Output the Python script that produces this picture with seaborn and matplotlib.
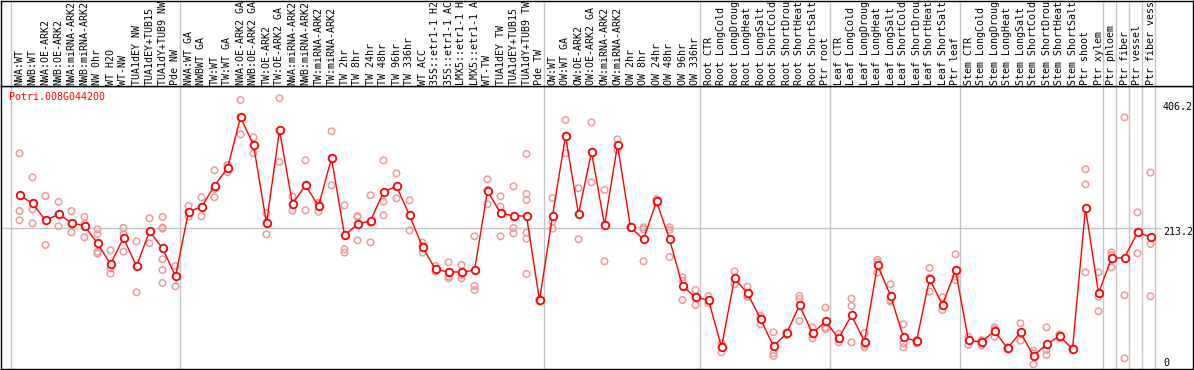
import numpy as np
import pandas as pd
import seaborn as sns
import matplotlib.pyplot as plt

# sample labels, one column each (as far as they show in the header)
labels = [
    "NWA:WT", "NWB:WT", "NWA:OE-ARK2", "NWB:OE-ARK2", "NWA:miRNA-ARK2", "NWB:miRNA-ARK2",
    "NW 0hr", "WT H2O", "WT-NW", "TUA1dEY NW", "TUA1dEY+TUB15", "TUA1dY+TUB9 NW", "Pde NW",
    "NWA:WT GA", "NWBWT GA", "TW:WT", "TW:WT GA", "NWA:OE-ARK2 GA", "NWB:OE-ARK2 GA",
    "TW:OE-ARK2", "TW:OE-ARK2 GA", "NWA:miRNA-ARK2", "NWB:miRNA-ARK2", "TW:miRNA-ARK2",
    "TW:miRNA-ARK2", "TW 2hr", "TW 8hr", "TW 24hr", "TW 48hr", "TW 96hr", "TW 336hr",
    "WT ACC", "35S::etr1-1 H2", "35S::etr1-1 AC", "LMX5::etr1-1 H", "LMX5::etr1-1 A",
    "WT-TW", "TUA1dEY TW", "TUA1dEY+TUB15", "TUA1dY+TUB9 TW", "Pde TW",
    "OW:WT", "OW:WT GA", "OW:OE-ARK2", "OW:OE-ARK2 GA", "OW:miRNA-ARK2", "OW:miRNA-ARK2",
    "OW 2hr", "OW 8hr", "OW 24hr", "OW 48hr", "OW 96hr", "OW 336hr",
    "Root CTR", "Root LongCold", "Root LongDroug", "Root LongHeat", "Root LongSalt",
    "Root ShortCold", "Root ShortDrou", "Root ShortHeat", "Root ShortSalt", "Ptr root",
    "Leaf CTR", "Leaf LongCold", "Leaf LongDroug", "Leaf LongHeat", "Leaf LongSalt",
    "Leaf ShortCold", "Leaf ShortDrou", "Leaf ShortHeat", "Leaf ShortSalt", "Ptr leaf",
    "Stem CTR", "Stem LongCold", "Stem LongDroug", "Stem LongHeat", "Stem LongSalt",
    "Stem ShortCold", "Stem ShortDrou", "Stem ShortHeat", "Stem ShortSalt", "Ptr shoot",
    "Ptr xylem", "Ptr phloem", "Ptr fiber", "Ptr vessel", "Ptr fiber vess",
]
group_sizes = [13, 28, 12, 10, 10, 11, 1, 1, 1, 1]

gene = "Potri.008G044200"

mean_expr = [
    261.4, 249.5, 224.1, 233.1, 220.6, 215.7, 189.8, 159.0, 197.8, 155.5,
    207.7, 182.4, 140.6, 237.0, 244.0, 275.8, 301.7, 377.7, 336.5, 219.6,
    358.3, 248.5, 276.3, 245.5, 316.6, 202.2, 218.1, 223.6, 266.4, 274.8,
    231.6, 184.3, 151.0, 147.1, 147.1, 149.5, 267.9, 235.0, 230.6, 230.6,
    104.8, 230.6, 349.9, 233.6, 326.0, 217.2, 336.5, 213.7, 195.8, 252.4,
    195.8, 126.2, 109.3, 105.3, 35.2, 137.6, 115.2, 77.0, 36.2, 55.6,
    97.3, 55.6, 73.5, 48.1, 82.4, 43.2, 157.5, 111.8, 49.6, 44.1,
    136.6, 98.3, 149.5, 45.1, 42.7, 59.1, 33.2, 57.1, 21.8, 39.2,
    51.6, 32.2, 242.0, 115.7, 167.4, 168.4, 206.2, 199.3,
]

rep_expr = [
    [324.0, 238.0, 224.1], [288.2, 240.5, 219.6], [260.4, 224.1, 187.3], [251.5, 233.1, 215.2],
    [238.0, 217.7, 206.2], [229.1, 219.1, 198.8], [210.7, 203.7, 177.4, 174.4], [179.4, 152.5, 144.6],
    [212.7, 203.2, 177.4], [192.8, 156.0, 116.7], [227.1, 206.2, 189.8],
    [229.1, 213.2, 211.7, 165.9, 150.0, 130.7], [156.0, 140.6, 125.7],
    [245.5, 236.5, 229.6], [258.4, 244.0, 230.1], [298.7, 270.8, 258.4], [306.6, 302.7, 295.7],
    [403.6, 377.7, 352.4], [347.9, 337.0, 324.0], [234.5, 221.1, 203.2], [406.2, 357.8, 311.1],
    [259.4, 247.5, 238.5], [313.6, 276.3, 239.0], [250.5, 248.5, 237.0], [356.8, 316.6, 276.3],
    [246.5, 180.9, 175.9], [230.6, 229.1, 194.3], [261.4, 220.6, 191.3], [313.6, 252.0, 231.6],
    [294.2, 273.3, 256.9], [253.9, 231.6, 209.2], [190.8, 186.3, 175.9], [156.0, 150.0, 147.6],
    [161.5, 140.1, 137.6], [157.5, 142.6, 137.6], [200.2, 126.2, 120.2], [285.3, 269.4, 248.0],
    [259.9, 244.5, 200.2], [274.8, 212.7, 204.7], [323.1, 263.4, 254.4, 205.7, 196.8, 144.1],
    [106.3, 104.8, 103.3],
    [257.4, 222.1, 211.7], [373.7, 350.4, 324.0], [271.8, 233.6, 195.8], [370.3, 326.0, 280.8],
    [269.4, 217.2, 163.0], [344.9, 335.5, 329.0], [214.7, 213.7, 212.7], [213.7, 210.7, 163.0],
    [255.9, 252.4, 249.5], [213.7, 209.7, 169.4], [139.1, 134.1, 105.3], [120.2, 109.3, 97.8],
    [111.3, 105.3, 100.3], [40.7, 35.7, 27.2], [148.0, 136.1, 128.7], [125.2, 111.3, 110.3],
    [81.9, 78.0, 69.0], [57.1, 25.8, 21.8], [57.1, 55.6, 53.1], [111.3, 106.8, 74.0],
    [64.5, 54.1, 48.1], [93.9, 64.5, 62.0],
    [55.1, 47.1, 42.2], [107.3, 96.3, 42.2], [56.1, 38.7, 34.7], [165.0, 161.5, 146.1],
    [128.7, 105.3, 102.8], [69.0, 40.7, 34.7], [45.6, 44.1, 40.7], [153.0, 138.6, 117.7],
    [109.3, 96.3, 90.4], [173.4, 140.1, 135.1],
    [50.6, 45.6, 38.2], [45.6, 43.6, 37.7], [64.5, 61.5, 50.6], [34.7, 33.2, 31.7],
    [70.5, 55.6, 44.6], [29.7, 25.8, 9.3], [64.5, 30.7, 23.3], [54.1, 52.1, 48.1],
    [33.2, 32.7, 30.7], [300.2, 277.8, 146.6], [146.6, 110.3, 88.4],
    [176.4, 172.4, 154.0], [377.7, 112.3, 18.3], [236.0, 207.2, 174.9], [295.2, 188.8, 110.8],
]

grid_value = 213.2
axis_labels = ["0", "213.2", "406.2"]

sns.set_style('white')
plt.rcParams['font.family'] = ['DejaVu Sans Mono']

mean_df = pd.DataFrame({'pos': np.arange(len(labels)), 'value': mean_expr})
rep_df = pd.DataFrame([(i, v) for i, reps in enumerate(rep_expr) for v in reps],
                      columns=['pos', 'value'])

W, H = 1194, 370
fig = plt.figure(figsize=(W / 100, H / 100), dpi=100)
ax = fig.add_axes([1 / W, 1 / H, 1192 / W, 283 / H])
hdr = fig.add_axes([1 / W, 284 / H, 1192 / W, 85.5 / H])


def px(p):
    # pixel column -> column position (columns are 13px apart)
    return (p - 19.5) / 13


xlim = (px(1), px(1193))
grey = '#c4c4c4'

# replicate points then the mean line on top
sns.scatterplot(data=rep_df, x='pos', y='value', ax=ax, marker='o', s=22,
                facecolor='none', edgecolor='#f09a9a', linewidth=1.1, zorder=3)
sns.lineplot(data=mean_df, x='pos', y='value', ax=ax, color='red', linewidth=1,
             marker='o', markersize=5.4, markerfacecolor='white',
             markeredgecolor='red', markeredgewidth=1.3, errorbar=None, zorder=4)

# group separators
bounds = np.cumsum([0] + group_sizes) - 0.654
for a in (ax, hdr):
    for b in bounds:
        a.axvline(b, color=grey, lw=1, zorder=1)
    a.set_xlim(*xlim)
    a.set_xticks([])
    a.set_yticks([])
    a.set_xlabel('')
    a.set_ylabel('')
    for s in a.spines.values():
        s.set_visible(True)
        s.set_color('black')
        s.set_linewidth(1)

ax.set_ylim(2.4, 424.4)
ax.hlines(grid_value, xlim[0], px(1162), color=grey, lw=1, zorder=1)

# value labels on the right
for lab, dy in zip(axis_labels, [8, -4.6, -8.4]):
    ax.annotate(lab, xy=(px(1163), float(lab)), xytext=(0, dy), textcoords='offset pixels',
                ha='left', va='center', fontsize=7.2, color='black', annotation_clip=False)

ax.annotate(gene, xy=(0, 1), xycoords='axes fraction', xytext=(8, -10.7),
            textcoords='offset pixels', ha='left', va='center', fontsize=7.2, color='red')

# rotated sample names in the header
hdr.set_ylim(0, 1)
for i, lab in enumerate(labels):
    hdr.text(i, 1 / 85.5, lab, rotation=90, ha='center', va='bottom', fontsize=7.2,
             color='black', transform=hdr.get_xaxis_transform(), clip_on=True)

fig.savefig('out.png', dpi=100)
